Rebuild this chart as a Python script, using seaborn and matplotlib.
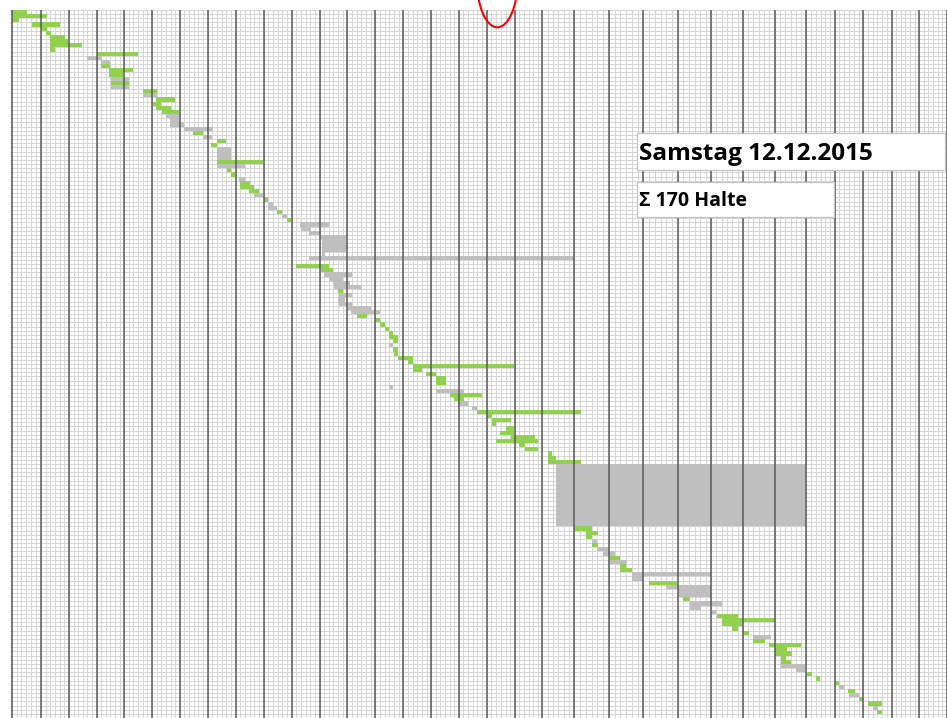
import numpy as np
import matplotlib
matplotlib.use("Agg")
import matplotlib.pyplot as plt
from matplotlib.colors import ListedColormap
from matplotlib.patches import Ellipse, Rectangle
import seaborn as sns

# Tagesablauf Samstag 12.12.2015: eine Zeile pro Halt, Zeiten in Stunden ab Beginn
seg_row = [0, 1, 2, 3, 4, 5, 6, 7, 8, 9,
           10, 11, 12, 13, 14, 15, 16, 17, 18, 19,
           20, 21, 22, 23, 24, 25, 26, 27, 28, 29,
           30, 31, 32, 33, 36, 37, 38, 39, 40, 41,
           42, 43, 44, 45, 46, 47, 48, 49, 50, 51,
           52, 53, 54, 55, 58, 59, 61, 62, 63, 64,
           65, 66, 67, 68, 69, 70, 71, 72, 73, 74,
           75, 76, 77, 78, 79, 80, 81, 82, 83, 84,
           85, 86, 87, 88, 90, 91, 92, 93, 94, 95,
           96, 97, 98, 99, 100, 101, 102, 103, 104, 105,
           106, 107, 108, 109, 124, 125, 126, 127, 128, 129,
           130, 131, 132, 133, 134, 135, 136, 137, 138, 139,
           141, 142, 143, 144, 145, 146, 147, 148, 149, 150,
           151, 152, 153, 154, 155, 156, 157, 158, 159, 160,
           161, 162, 163, 164, 165, 166, 167, 168]
seg_span = [1, 1, 1, 1, 1, 1, 1, 1, 1, 1,
            1, 1, 1, 1, 1, 1, 1, 1, 1, 1,
            1, 1, 1, 1, 1, 1, 1, 1, 1, 1,
            1, 1, 1, 3, 1, 1, 1, 1, 1, 1,
            1, 1, 1, 1, 1, 1, 1, 1, 1, 1,
            1, 1, 1, 3, 1, 1, 1, 1, 1, 1,
            1, 1, 1, 1, 1, 1, 1, 1, 1, 1,
            1, 1, 1, 1, 1, 1, 1, 1, 1, 1,
            1, 1, 1, 2, 1, 1, 1, 1, 1, 1,
            1, 1, 1, 1, 1, 1, 1, 1, 1, 1,
            1, 1, 1, 15, 1, 1, 1, 1, 1, 1,
            1, 1, 1, 1, 1, 1, 1, 1, 1, 2,
            1, 1, 1, 1, 1, 1, 1, 1, 1, 1,
            1, 1, 1, 1, 1, 1, 1, 1, 1, 1,
            1, 1, 1, 1, 1, 1, 1, 1]
seg_start = [0.00, 0.00, 0.00, 0.70, 1.03, 1.18, 1.32, 1.32, 1.32, 1.32,
             3.00, 2.66, 3.15, 3.15, 3.47, 3.47, 3.51, 3.51, 3.51, 4.67,
             4.67, 5.15, 5.03, 5.15, 5.35, 5.51, 5.65, 5.65, 6.16, 6.49,
             6.82, 7.32, 7.14, 7.32, 7.32, 7.32, 7.68, 7.84, 8.13, 8.16,
             8.16, 8.49, 8.67, 9.00, 9.15, 9.15, 9.48, 9.66, 9.83, 10.32,
             10.34, 10.64, 11.00, 11.10, 11.10, 10.64, 10.17, 11.06, 11.15, 11.33,
             11.48, 11.54, 11.66, 11.69, 11.66, 11.69, 11.96, 12.14, 12.34, 13.00,
             13.15, 13.33, 13.48, 13.48, 13.63, 13.48, 13.63, 13.66, 13.81, 14.16,
             14.34, 14.34, 14.82, 15.18, 13.48, 15.18, 15.66, 15.84, 15.99, 16.49,
             16.67, 17.01, 17.18, 17.18, 17.67, 17.49, 17.87, 17.33, 18.17, 18.35,
             19.16, 19.16, 19.16, 19.44, 20.00, 20.35, 20.33, 20.51, 20.51, 20.67,
             20.84, 21.03, 21.03, 21.34, 21.34, 21.68, 21.68, 22.16, 22.66, 23.01,
             23.15, 23.35, 23.35, 24.00, 24.19, 24.33, 24.35, 24.66, 25.01, 25.34,
             25.34, 25.83, 26.02, 26.02, 26.18, 26.18, 26.18, 26.67, 27.02, 27.34,
             28.02, 28.14, 28.46, 28.49, 28.84, 29.16, 29.33, 29.50]
seg_end = [0.53, 1.20, 0.23, 1.66, 1.20, 1.35, 1.86, 1.98, 2.49, 1.50,
           4.49, 3.18, 3.50, 3.50, 4.31, 3.95, 4.16, 4.16, 4.16, 5.18,
           5.18, 5.83, 5.33, 5.68, 5.98, 5.98, 5.98, 6.16, 7.18, 6.84,
           7.15, 7.66, 7.35, 7.84, 8.97, 8.34, 7.84, 7.99, 8.34, 8.52,
           8.67, 8.85, 8.97, 9.15, 9.33, 9.48, 9.66, 9.83, 9.99, 11.33,
           10.70, 11.06, 11.93, 11.93, 11.18, 20.00, 11.33, 11.48, 12.17, 11.84,
           12.08, 12.49, 11.84, 12.17, 11.90, 12.17, 12.85, 13.15, 12.70, 13.15,
           13.33, 13.48, 13.63, 13.81, 13.81, 13.63, 13.81, 13.81, 14.34, 14.34,
           17.99, 14.68, 15.18, 15.52, 13.63, 16.20, 16.83, 16.20, 16.32, 16.67,
           20.19, 17.19, 17.85, 17.33, 17.99, 17.99, 18.71, 18.85, 18.35, 18.85,
           19.30, 19.44, 20.19, 27.00, 20.51, 20.69, 20.52, 20.67, 20.69, 21.00,
           21.17, 21.34, 21.51, 21.49, 21.66, 23.98, 22.02, 22.96, 23.98, 23.98,
           23.35, 24.33, 23.68, 24.16, 24.85, 26.00, 24.98, 24.85, 25.19, 25.87,
           25.69, 26.84, 26.39, 26.53, 26.36, 26.50, 26.97, 26.97, 27.20, 27.49,
           28.16, 28.31, 28.70, 28.84, 28.98, 29.66, 29.54, 29.66]
seg_kind = ["F", "F", "F", "F", "F", "F", "F", "F", "F", "F",
            "F", "S", "S", "F", "F", "F", "S", "F", "S", "F",
            "S", "F", "F", "F", "F", "S", "S", "S", "S", "F",
            "S", "F", "F", "S", "F", "S", "F", "F", "S", "F",
            "F", "F", "S", "F", "S", "S", "F", "S", "F", "S",
            "S", "S", "S", "S", "S", "S", "F", "F", "S", "S",
            "S", "S", "F", "S", "S", "S", "S", "S", "F", "F",
            "F", "F", "F", "F", "F", "S", "F", "F", "F", "F",
            "F", "F", "F", "F", "S", "S", "F", "F", "S", "S",
            "F", "F", "F", "F", "F", "F", "F", "F", "F", "F",
            "F", "F", "F", "S", "F", "F", "F", "S", "F", "S",
            "S", "F", "S", "F", "F", "S", "S", "F", "S", "S",
            "F", "S", "S", "S", "F", "F", "F", "F", "F", "S",
            "F", "F", "F", "F", "F", "F", "S", "S", "F", "F",
            "F", "S", "F", "S", "F", "F", "S", "F"]

n_stops = 170
n_hours = 32
title_text = "Samstag 12.12.2015"
count_text = "\u03a3 170 Halte"

# Excel-Spalten sind nicht alle gleich breit: Pixel der Stundenlinien
hour_px = [-17.6, 11.7, 41, 69, 96.7, 124.3, 152.3, 180, 208, 236, 264, 292,
           320, 348, 376, 404, 432, 459.5, 487.5, 515.7, 543.3, 575, 610,
           644.3, 679, 712.3, 744, 776, 807.7, 836, 864.7, 893, 920.7, 948.5,
           976.3]
hour_idx = np.arange(-1, len(hour_px) - 1)

GREEN = "#92d050"
GRAY = "#bfbfbf"
W, H = 947, 718

# Matrix in Minuten: 1 = Fahrt, 2 = Standzeit
codes = {"F": 1, "S": 2}
cells = np.zeros((n_stops, n_hours * 60))
for r, n, a, b, k in zip(seg_row, seg_span, seg_start, seg_end, seg_kind):
    cells[r:r + n, int(round(a * 60)):int(round(b * 60))] = codes[k]

sns.set_theme(style="white")
plt.rcParams["font.family"] = ["Open Sans", "DejaVu Sans"]

fig = plt.figure(figsize=(W / 100, H / 100), dpi=100)
ax = fig.add_axes([10 / W, 0, 1 - 10 / W, 1 - 10 / H])

sns.heatmap(cells, mask=cells == 0, cmap=ListedColormap([GREEN, GRAY]),
            vmin=0.5, vmax=2.5, cbar=False, xticklabels=False,
            yticklabels=False, ax=ax)

ax.set_xscale("function", functions=(
    lambda m: np.interp(np.asarray(m) / 60.0, hour_idx, hour_px),
    lambda p: np.interp(np.asarray(p), hour_px, hour_idx) * 60.0))
ax.set_xlim(-3.5, 1916)
ax.set_ylim(169.0, 0)

# feines Zellenraster
ax.set_xticks([])
ax.set_yticks([])
ax.set_xticks(np.arange(0, n_hours * 60 + 1, 10), minor=True)
ax.set_yticks(np.arange(0, n_stops + 1), minor=True)
ax.grid(which="minor", color="#d6d6d6", linewidth=0.75)
ax.set_axisbelow(True)
ax.tick_params(which="both", length=0, labelbottom=False, labelleft=False)
for s in ax.spines.values():
    s.set_visible(False)

# Stundenlinien
ax.vlines(np.arange(0, n_hours * 60 + 1, 60), 0, n_stops, colors="#5a5a5a",
          linewidth=1.1, zorder=3)

# Infokästen
fig.add_artist(Rectangle((637 / W, 1 - 170 / H), 308 / W, 37 / H,
                         transform=fig.transFigure, facecolor="white",
                         edgecolor="#c4c4c4", linewidth=0.9, zorder=5))
fig.text(639 / W, 1 - 160.5 / H, title_text, fontsize=17.5, fontweight="bold",
         va="baseline", ha="left", color="black", zorder=6)
fig.add_artist(Rectangle((637.3 / W, 1 - 217.3 / H), 197 / W, 35.6 / H,
                         transform=fig.transFigure, facecolor="white",
                         edgecolor="#c4c4c4", linewidth=0.9, zorder=5))
fig.text(639 / W, 1 - 206 / H, count_text, fontsize=14, fontweight="bold",
         va="baseline", ha="left", color="black", zorder=6)

# rote Markierung oben
fig.add_artist(Ellipse((497.3 / W, 1 + 20 / H), 40.8 / W, 94.6 / H,
                       transform=fig.transFigure, fill=False,
                       edgecolor="red", linewidth=1.5, zorder=7))

fig.savefig("out.png", dpi=100)
